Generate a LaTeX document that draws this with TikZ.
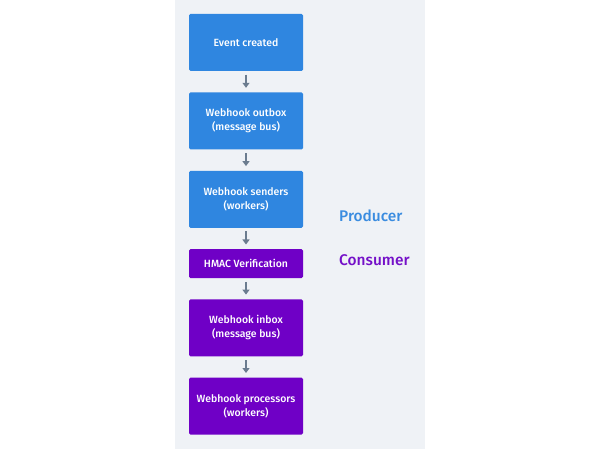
\documentclass[tikz,border=0pt]{standalone}
\usepackage{fontspec}
\setmainfont{Fira Sans}
\newfontfamily\medfont{Fira Sans Medium}
\usetikzlibrary{arrows.meta}
\definecolor{panelbg}{HTML}{EFF2F6}
\definecolor{boxblue}{HTML}{2F86E0}
\definecolor{boxpurple}{HTML}{6F00C6}
\definecolor{arrowgray}{HTML}{6B7C8F}
\definecolor{prodblue}{HTML}{3A8CE0}
\definecolor{conspurple}{HTML}{7410C8}
\tikzset{
  flowbox/.style={rectangle, rounded corners=1.5bp, inner sep=0pt, minimum width=114bp,
    text=white, font=\fontsize{10.5}{14.3}\selectfont\medfont, align=center},
  bluebox/.style={flowbox, fill=boxblue},
  purplebox/.style={flowbox, fill=boxpurple},
  flowarrow/.style={draw=arrowgray, line width=1.6bp, -{Triangle[length=5bp,width=7bp]},
    shorten <=3.5bp, shorten >=4.5bp},
  sidelabel/.style={font=\fontsize{15.5}{18}\selectfont\medfont, anchor=base west, inner sep=0pt}
}
\begin{document}
\begin{tikzpicture}[x=1bp,y=-1bp]
\useasboundingbox (0,0) rectangle (600,449);
\fill[panelbg] (175,0) rectangle (425,449);
\node[bluebox, minimum height=57bp] (ev) at (246,42.5) {Event created};
\node[bluebox, minimum height=57bp] (out) at (246,121) {Webhook outbox\\(message bus)};
\node[bluebox, minimum height=57bp] (send) at (246,199.3) {Webhook senders\\(workers)};
\node[purplebox, minimum height=29bp] (hmac) at (246,263.7) {HMAC Verification};
\node[purplebox, minimum height=57bp] (inbox) at (246,327.8) {Webhook inbox\\(message bus)};
\node[purplebox, minimum height=57bp] (proc) at (246,406.2) {Webhook processors\\(workers)};
\draw[flowarrow] (ev.south) -- (out.north);
\draw[flowarrow] (out.south) -- (send.north);
\draw[flowarrow] (send.south) -- (hmac.north);
\draw[flowarrow] (hmac.south) -- (inbox.north);
\draw[flowarrow] (inbox.south) -- (proc.north);
\node[sidelabel, text=prodblue] (prod) at (339,221.7) {Producer};
\node[sidelabel, text=conspurple] (cons) at (339,265.5) {Consumer};
\end{tikzpicture}
\end{document}
